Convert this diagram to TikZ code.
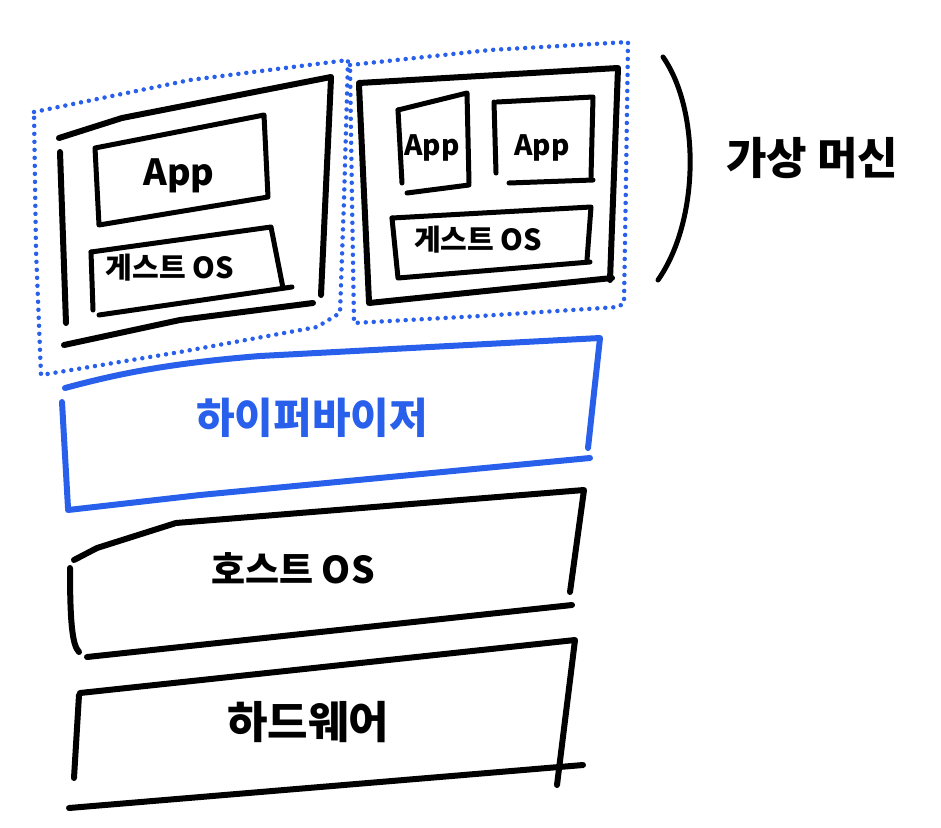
\documentclass[tikz,border=0pt]{standalone}
\usepackage{fontspec}
\newfontfamily\kr{Noto Sans CJK KR}
\definecolor{hvblue}{RGB}{40,95,235}
\begin{document}
\begin{tikzpicture}[x=1pt,y=-1pt,
  ink/.style={line width=6pt,line cap=round,line join=round,black},
  thin ink/.style={line width=5pt,line cap=round,line join=round,black},
  blueink/.style={line width=6pt,line cap=round,line join=round,hvblue},
  dots/.style={line width=4.5pt,line cap=round,hvblue,dash pattern=on 0pt off 8pt},
  lbl/.style={font=\kr,inner sep=0pt}]
\useasboundingbox (0,0) rectangle (941,827);
% dotted virtual machine groups
\draw[dots] (34,112) -- (190,80) -- (348,60) -- (344,200) -- (340,313) -- (317,327) -- (180,352) -- (41,375) -- (36,250) -- cycle;
\draw[dots] (350,65) -- (490,50) -- (628,42) -- (626,180) -- (624,303) -- (618,307) -- (480,316) -- (354,323) -- (352,200) -- cycle;
% left VM
\draw[ink] (59,138) -- (122,118) -- (331,77);
\draw[ink] (331,78) -- (321,295);
\draw[ink] (60,152) -- (66,323);
\draw[ink] (64,345) -- (180,320) -- (313,303);
\draw[thin ink] (95,148) -- (264,115) -- (268,197) -- (99,225) -- cycle;
\draw[thin ink] (91,252) -- (271,227) -- (283,288);
\draw[thin ink] (91,252) -- (93,310);
\draw[thin ink] (99,315) -- (292,287);
\node[lbl,font=\kr\bfseries\fontsize{36}{36}\selectfont] (app1) at (179,176) {App};
\node[lbl,font=\kr\bfseries\fontsize{29}{29}\selectfont] (gos1) at (170,268) {게스트 OS};
% right VM
\draw[ink] (359,83) -- (618,68) -- (610,280);
\draw[ink] (359,85) -- (369,302);
\draw[ink] (369,303) -- (612,278);
\draw[thin ink] (398,110) -- (467,93) -- (469,183);
\draw[thin ink] (398,110) -- (402,183);
\draw[thin ink] (407,193) -- (469,185);
\draw[thin ink] (494,102) -- (496,173);
\draw[thin ink] (497,102) -- (593,97) -- (591,177);
\draw[thin ink] (509,183) -- (593,180);
\draw[thin ink] (392,218) -- (591,207) -- (587,260);
\draw[thin ink] (392,218) -- (398,278) -- (590,262);
\node[lbl,font=\kr\bfseries\fontsize{28}{28}\selectfont] (app2) at (432,148) {App};
\node[lbl,font=\kr\bfseries\fontsize{28}{28}\selectfont] (app3) at (542,148) {App};
\node[lbl,font=\kr\bfseries\fontsize{29}{29}\selectfont] (gos2) at (478,240) {게스트 OS};
% bracket and VM label
\draw[ink,line width=5pt] (663,57) .. controls (700,110) and (700,220) .. (658,280);
\node[lbl,font=\kr\bfseries\fontsize{44}{44}\selectfont] (vm) at (812,158) {가상 머신};
% hypervisor
\draw[blueink] (65,388) .. controls (110,376) and (160,364) .. (260,356) -- (600,338) -- (588,448);
\draw[blueink] (62,402) -- (68,508);
\draw[blueink] (68,510) -- (200,495) -- (590,458);
\node[lbl,text=hvblue,font=\kr\bfseries\fontsize{42}{42}\selectfont] (hv) at (312,418) {하이퍼바이저};
% host OS
\draw[ink] (74,560) -- (97,548) -- (176,523) -- (584,490) -- (570,592);
\draw[ink] (70,568) .. controls (70,620) and (72,645) .. (79,652);
\draw[ink] (87,657) -- (572,605);
\node[lbl,font=\kr\bfseries\fontsize{37}{37}\selectfont] (host) at (293,568) {호스트 OS};
% hardware
\draw[ink] (80,693) -- (575,640) -- (557,785);
\draw[ink] (79,695) -- (74,778);
\draw[ink] (69,808) -- (583,765);
\node[lbl,font=\kr\bfseries\fontsize{44}{44}\selectfont] (hw) at (308,722) {하드웨어};
\end{tikzpicture}
\end{document}
